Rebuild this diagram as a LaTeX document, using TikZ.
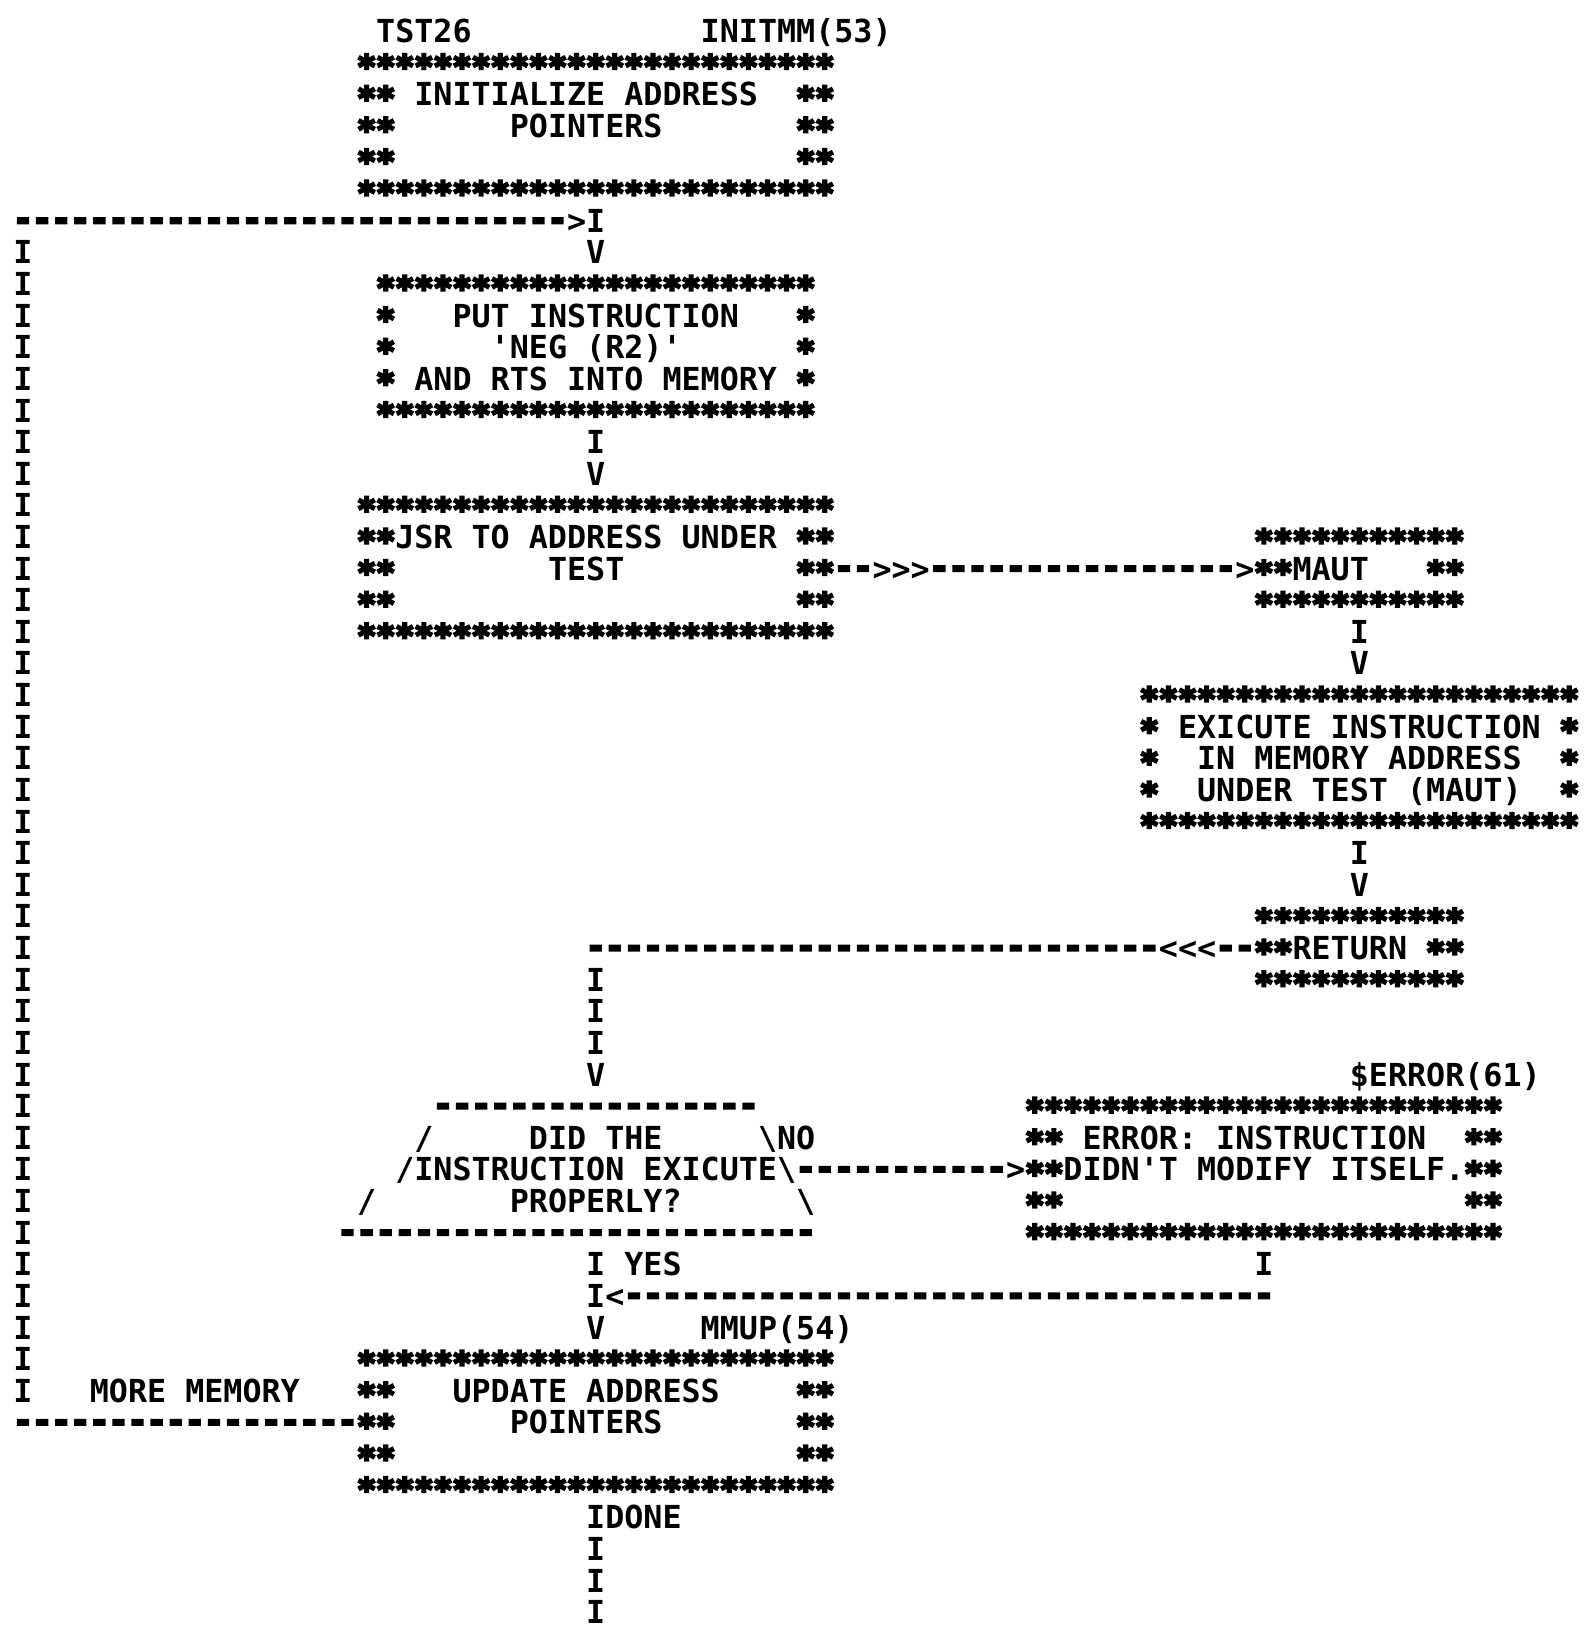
\documentclass[tikz,border=0pt]{standalone}
\usepackage{fontspec}
\setmonofont{DejaVu Sans Mono}
\newfontfamily\heavy{DejaVu Sans Mono Bold}[FakeBold=8]
\usepackage{tikz}
\usetikzlibrary{calc,decorations.markings}

% one character cell of the listing
\newlength\cw \setlength\cw{9.545pt}
\newlength\lh \setlength\lh{15.81pt}
\newcommand\chartfont{\ttfamily\bfseries\fontsize{15.854pt}{15.81pt}\selectfont
  \lineskiplimit=-100pt\frenchspacing}
\newcommand\rowstrut{\rule[-2.125pt]{0pt}{15.81pt}}
\newcommand\gap[1]{\hspace*{#1\cw}}
% heavier plotter stars and dashes
\newcommand\stars[1]{\raisebox{-1.8pt}[0pt][0pt]{\heavy\mdseries#1}}
\newcommand\dashes[1]{\raisebox{1.2pt}[0pt][0pt]{\heavy\mdseries#1}}

\tikzset{
  glyph/.style={font=\chartfont, inner sep=0pt, outer sep=0pt,
    text height=11.56pt, text depth=0pt},
  chart/.style={font=\chartfont, inner sep=0pt, outer sep=0pt, align=left},
  hrun/.style={decorate, decoration={markings,
      mark=between positions 0 and -4pt step \cw with {\node[glyph]{\dashes{-}};},
      mark=at position 1 with {\node[glyph]{#1};}}},
  hrun/.default={\dashes{-}},
  vrun/.style={decorate, decoration={markings,
      mark=between positions 0 and -4pt step \lh with {\node[glyph]{I};},
      mark=at position 1 with {\node[glyph]{#1};}}},
  vrun/.default=I
}

\begin{document}
\begin{tikzpicture}[x=9.545pt, y=-15.81pt]
\useasboundingbox (-1.205,-0.98) rectangle (81.82,50.82);

% boxes
\node[glyph] (tst) at (21,0) {TST26};
\node[glyph] (initmm) at (40.5,0) {INITMM(53)};
\node[chart] (init) at (30,3) {%
  \rowstrut\stars{*************************}\\
  \rowstrut\stars{**} INITIALIZE ADDRESS\gap{2}\stars{**}\\
  \rowstrut\stars{**}\gap{6}POINTERS\gap{7}\stars{**}\\
  \rowstrut\stars{**}\gap{21}\stars{**}\\
  \rowstrut\stars{*************************}};
\node[chart] (put) at (30,10) {%
  \rowstrut\stars{***********************}\\
  \rowstrut\stars{*}\gap{3}PUT INSTRUCTION\gap{3}\stars{*}\\
  \rowstrut\stars{*}\gap{5}'NEG (R2)'\gap{6}\stars{*}\\
  \rowstrut\stars{*} AND RTS INTO MEMORY \stars{*}\\
  \rowstrut\stars{***********************}};
\node[chart] (jsr) at (30,17) {%
  \rowstrut\stars{*************************}\\
  \rowstrut\stars{**}JSR TO ADDRESS UNDER \stars{**}\\
  \rowstrut\stars{**}\gap{8}TEST\gap{9}\stars{**}\\
  \rowstrut\stars{**}\gap{21}\stars{**}\\
  \rowstrut\stars{*************************}};
\node[chart] (maut) at (70,17) {%
  \rowstrut\stars{***********}\\
  \rowstrut\stars{**}MAUT\gap{3}\stars{**}\\
  \rowstrut\stars{***********}};
\node[chart] (exec) at (70,23) {%
  \rowstrut\stars{***********************}\\
  \rowstrut\stars{*} EXICUTE INSTRUCTION \stars{*}\\
  \rowstrut\stars{*}\gap{2}IN MEMORY ADDRESS\gap{2}\stars{*}\\
  \rowstrut\stars{*}\gap{2}UNDER TEST (MAUT)\gap{2}\stars{*}\\
  \rowstrut\stars{***********************}};
\node[chart] (ret) at (70,29) {%
  \rowstrut\stars{***********}\\
  \rowstrut\stars{**}RETURN \stars{**}\\
  \rowstrut\stars{***********}};
\node[chart] (dec) at (29,36) {%
  \rowstrut\gap{5}\dashes{-----------------}\\
  \rowstrut\gap{4}/\gap{5}DID THE\gap{5}\textbackslash\\
  \rowstrut\gap{3}/INSTRUCTION EXICUTE\textbackslash\\
  \rowstrut\gap{1}/\gap{7}PROPERLY?\gap{6}\textbackslash\\
  \rowstrut\dashes{-------------------------}};
\node[glyph] (errlbl) at (74.5,33) {\$ERROR(61)};
\node[chart] (err) at (65,36) {%
  \rowstrut\stars{*************************}\\
  \rowstrut\stars{**} ERROR: INSTRUCTION\gap{2}\stars{**}\\
  \rowstrut\stars{**}DIDN'T MODIFY ITSELF.\stars{**}\\
  \rowstrut\stars{**}\gap{21}\stars{**}\\
  \rowstrut\stars{*************************}};
\node[glyph] (mmup) at (39.5,41) {MMUP(54)};
\node[chart] (upd) at (30,44) {%
  \rowstrut\stars{*************************}\\
  \rowstrut\stars{**}\gap{3}UPDATE ADDRESS\gap{4}\stars{**}\\
  \rowstrut\stars{**}\gap{6}POINTERS\gap{7}\stars{**}\\
  \rowstrut\stars{**}\gap{21}\stars{**}\\
  \rowstrut\stars{*************************}};

% labels
\node[glyph] (no) at (40.5,35) {NO};
\node[glyph] (yes) at (33,39) {YES};
\node[glyph] (more) at (9,43) {MORE MEMORY};
\node[glyph] (done) at (32.5,47) {DONE};

% calls into and back from the memory under test
\node[glyph] (gosub) at ($(jsr.east)+(3.5,0)$) {>>>};
\node[glyph] (goback) at ($(ret.west)+(-3.5,0)$) {<<<};

\coordinate (back) at (0,44);
\coordinate (loop) at (0,6);
\coordinate (rejoin) at (upd.north |- ret.west);
\coordinate (errturn) at ($(err.south)+(0,1.5)$);
\coordinate (merge) at (upd.north |- errturn);
\coordinate (exit) at (30,50);

% connectors
\path[vrun=V] ($(init.south)+(0,0.5)$) -- ($(put.north)+(0,-0.5)$);
\path[vrun=V] ($(put.south)+(0,0.5)$) -- ($(jsr.north)+(0,-0.5)$);
\path[hrun] ($(jsr.east)+(0.5,0)$) -- ($(gosub.west)+(-0.5,0)$);
\path[hrun=>] ($(gosub.east)+(0.5,0)$) -- ($(maut.west)+(-0.5,0)$);
\path[vrun=V] ($(maut.south)+(0,0.5)$) -- ($(exec.north)+(0,-0.5)$);
\path[vrun=V] ($(exec.south)+(0,0.5)$) -- ($(ret.north)+(0,-0.5)$);
\path[hrun] ($(ret.west)+(-0.5,0)$) -- ($(goback.east)+(0.5,0)$);
\path[hrun] ($(goback.west)+(-0.5,0)$) -- (rejoin);
\path[vrun=V] ($(rejoin)+(0,1)$) -- ($(rejoin |- dec.north)+(0,-0.5)$);
\path[hrun=>] ($(dec.east)+(-0.5,0)$) -- ($(err.west)+(-0.5,0)$);
\path[vrun=V] ($(upd.north |- dec.south)+(0,0.5)$) -- ($(upd.north)+(0,-0.5)$);
\path[vrun={\dashes{-}}] ($(err.south)+(0,0.5)$) -- (errturn);
\path[hrun=<] ($(errturn)+(-1,0)$) -- ($(merge)+(1,0)$);
\path[vrun] ($(upd.south)+(0,0.5)$) -- (exit);

% more memory: back to the top
\path[hrun] ($(upd.west)+(-0.5,0)$) -- (back);
\path[vrun] ($(back)+(0,-1)$) -- ($(loop)+(0,1)$);
\path[hrun=>] (loop) -- ($(init.south)+(-1,0.5)$);
\end{tikzpicture}
\end{document}
